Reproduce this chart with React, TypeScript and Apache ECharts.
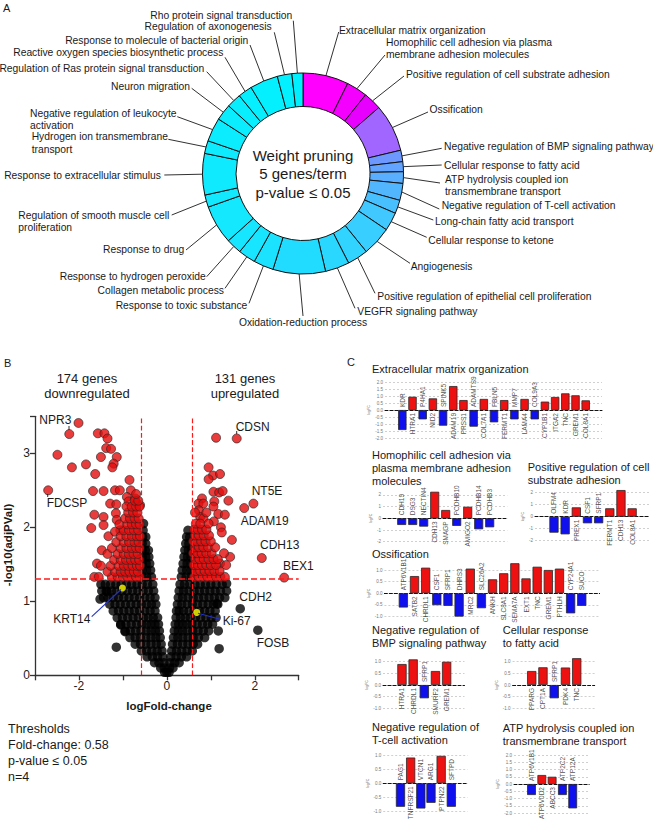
import { useEffect, useRef } from "react";
import * as echarts from "echarts";

const FONT = "'Liberation Sans', Arial, Helvetica, sans-serif";

// ---------------- Panel A: GO terms (weight pruning) ----------------
const goTerms = [
  "Extracellular matrix organization",
  "Homophilic cell adhesion via plasma\nmembrane adhesion molecules",
  "Positive regulation of cell substrate adhesion",
  "Ossification",
  "Negative regulation of BMP signaling pathway",
  "Cellular response to fatty acid",
  "ATP hydrolysis coupled ion\ntransmembrane transport",
  "Negative regulation of T-cell activation",
  "Long-chain fatty acid transport",
  "Cellular response to ketone",
  "Angiogenesis",
  "Positive regulation of epithelial cell proliferation",
  "VEGFR signaling pathway",
  "Oxidation-reduction process",
  "Response to toxic substance",
  "Collagen metabolic process",
  "Response to hydrogen peroxide",
  "Response to drug",
  "Regulation of smooth muscle cell\nproliferation",
  "Response to extracellular stimulus",
  "Hydrogen ion transmembrane\ntransport",
  "Negative regulation of leukocyte\nactivation",
  "Neuron migration",
  "Regulation of Ras protein signal transduction",
  "Reactive oxygen species biosynthetic process",
  "Response to molecule of bacterial origin",
  "Regulation of axonogenesis",
  "Rho protein signal transduction",
];
const goShares = [26.4, 12.1, 10.5, 27.6, 6.6, 5.8, 6.7, 9.8, 7.8, 10.7, 17, 12, 14, 30.4, 11.6, 10, 9, 22.5, 7.1, 24, 7.4, 13.8, 9.5, 8.4, 8.2, 16.3, 8.4, 6.4];
const goColors = [
  "#ff00ff", "#f400ff", "#e800ff", "#a066ff", "#6c98ff", "#62a4ff", "#5aaeff",
  "#52b6ff", "#48c0ff", "#40c8ff", "#38ceff", "#30d4ff", "#2ad8ff", "#22dcff",
  "#1be3ff", "#18e5ff", "#16e6ff", "#14e8ff", "#12e9ff", "#10eaff", "#0eebff",
  "#0cecff", "#0aedff", "#08eeff", "#06efff", "#04f0ff", "#02f0ff", "#00f0ff",
];
// label placement: [textX, firstLineCenterY, align, leaderStartX, leaderStartY]
const goLabelLayout: [number, number, string, number, number][] = [
  [339, 30.7, "left", 338.7, 32],
  [386, 42.3, "left", 385, 55],
  [406, 74, "left", 404, 76],
  [429.5, 109, "left", 428, 112],
  [444, 146, "left", 441.7, 148.3],
  [444, 165, "left", 441.7, 165],
  [445, 179.3, "left", 440, 183],
  [441.7, 205, "left", 439.3, 209],
  [435, 221, "left", 433.3, 220],
  [428.3, 240, "left", 426.7, 237.3],
  [410.7, 266.7, "left", 410, 263.3],
  [377.3, 296.7, "left", 375, 293.3],
  [357.3, 311.7, "left", 355, 308.3],
  [303, 322, "center", 303, 316],
  [247.3, 305, "right", 249, 303.3],
  [224, 290.7, "right", 225, 288.3],
  [205.7, 276, "right", 206.7, 276.7],
  [184.3, 249.3, "right", 186, 250],
  [18.3, 215, "left", 171.7, 215],
  [161, 175, "right", 164.3, 175],
  [31.7, 136.7, "left", 168.3, 139.3],
  [30, 113.3, "left", 177.3, 116.7],
  [190, 86, "right", 191.7, 88.3],
  [204.3, 68.3, "right", 206.7, 71.7],
  [223.3, 52.3, "right", 225, 57.3],
  [248.3, 40, "right", 250, 45],
  [271.7, 26.7, "right", 274.3, 32.3],
  [292.3, 15, "right", 293.3, 20.7],
];
const DONUT_C = [303, 173.5];
const DONUT_R = [67, 100.5];

// ---------------- Panel B: volcano ----------------
const fcThreshold = 0.58;
const adjPThreshold = 0.05;
const notSignificant: number[][] = [
  [-0.05, 0.04], [0, 0.04], [0.05, 0.04],
  [-0.14, 0.1], [-0.06, 0.1], [0.06, 0.1], [0.14, 0.1],
  [-0.28, 0.17], [-0.18, 0.17], [-0.07, 0.17], [0.07, 0.17], [0.18, 0.17], [0.28, 0.17],
  [-0.45, 0.25], [-0.33, 0.25], [-0.21, 0.25], [-0.09, 0.25], [0.09, 0.25], [0.21, 0.25], [0.33, 0.25], [0.45, 0.25],
  [-0.58, 0.33], [-0.46, 0.33], [-0.34, 0.33], [-0.22, 0.33], [-0.11, 0.33], [0.11, 0.33], [0.22, 0.33], [0.34, 0.33], [0.46, 0.33], [0.58, 0.33],
  [-0.72, 0.42], [-0.6, 0.42], [-0.48, 0.42], [-0.36, 0.42], [-0.24, 0.42], [-0.13, 0.42], [0.13, 0.42], [0.24, 0.42], [0.36, 0.42], [0.48, 0.42], [0.6, 0.42], [0.7, 0.42],
  [-0.84, 0.51], [-0.72, 0.51], [-0.6, 0.51], [-0.48, 0.51], [-0.36, 0.51], [-0.25, 0.51], [-0.15, 0.51], [0.15, 0.51], [0.25, 0.51], [0.36, 0.51], [0.48, 0.51], [0.6, 0.51], [0.72, 0.51], [0.86, 0.51],
  [-0.95, 0.6], [-0.83, 0.6], [-0.71, 0.6], [-0.59, 0.6], [-0.47, 0.6], [-0.36, 0.6], [-0.26, 0.6], [-0.17, 0.6], [0.17, 0.6], [0.26, 0.6], [0.36, 0.6], [0.47, 0.6], [0.59, 0.6], [0.71, 0.6], [0.83, 0.6], [0.95, 0.6],
  [-1.05, 0.69], [-0.93, 0.69], [-0.81, 0.69], [-0.69, 0.69], [-0.57, 0.69], [-0.46, 0.69], [-0.36, 0.69], [-0.27, 0.69], [-0.19, 0.69], [0.19, 0.69], [0.27, 0.69], [0.36, 0.69], [0.46, 0.69], [0.57, 0.69], [0.69, 0.69], [0.81, 0.69], [0.93, 0.69], [1.04, 0.69],
  [-1.13, 0.78], [-1.01, 0.78], [-0.89, 0.78], [-0.77, 0.78], [-0.65, 0.78], [-0.53, 0.78], [-0.42, 0.78], [-0.31, 0.78], [-0.21, 0.78], [0.21, 0.78], [0.31, 0.78], [0.42, 0.78], [0.53, 0.78], [0.65, 0.78], [0.77, 0.78], [0.89, 0.78], [1.01, 0.78], [1.12, 0.78],
  [-1.22, 0.87], [-1.1, 0.87], [-0.98, 0.87], [-0.86, 0.87], [-0.74, 0.87], [-0.62, 0.87], [-0.5, 0.87], [-0.38, 0.87], [-0.27, 0.87], [0.22, 0.87], [0.28, 0.87], [0.38, 0.87], [0.5, 0.87], [0.62, 0.87], [0.74, 0.87], [0.86, 0.87], [0.98, 0.87], [1.1, 0.87],
  [-1.3, 0.96], [-1.18, 0.96], [-1.06, 0.96], [-0.94, 0.96], [-0.82, 0.96], [-0.7, 0.96], [-0.58, 0.96], [-0.46, 0.96], [-0.35, 0.96], [-0.25, 0.96], [0.24, 0.96], [0.34, 0.96], [0.46, 0.96], [0.58, 0.96], [0.7, 0.96], [0.82, 0.96], [0.94, 0.96], [1.06, 0.96], [1.16, 0.96],
  [-1.44, 1.05], [-1.34, 1.05], [-1.22, 1.05], [-1.1, 1.05], [-0.98, 1.05], [-0.86, 1.05], [-0.74, 1.05], [-0.62, 1.05], [-0.5, 1.05], [-0.38, 1.05], [-0.27, 1.05], [0.26, 1.05], [0.36, 1.05], [0.48, 1.05], [0.6, 1.05], [0.72, 1.05], [0.84, 1.05], [0.96, 1.05], [1.08, 1.05], [1.2, 1.05], [1.32, 1.05],
  [-1.48, 1.14], [-1.38, 1.14], [-1.26, 1.14], [-1.14, 1.14], [-1.02, 1.14], [-0.9, 1.14], [-0.78, 1.14], [-0.66, 1.14], [-0.54, 1.14], [-0.42, 1.14], [-0.3, 1.14], [0.28, 1.14], [0.38, 1.14], [0.5, 1.14], [0.62, 1.14], [0.74, 1.14], [0.86, 1.14], [0.98, 1.14], [1.1, 1.14], [1.22, 1.14], [1.36, 1.14],
  [-1.5, 1.23], [-1.4, 1.23], [-1.28, 1.23], [-1.16, 1.23], [-1.04, 1.23], [-0.92, 1.23], [-0.8, 1.23], [-0.68, 1.23], [-0.56, 1.23], [-0.44, 1.23], [-0.32, 1.23], [0.3, 1.23], [0.4, 1.23], [0.52, 1.23], [0.64, 1.23], [0.76, 1.23], [0.88, 1.23], [1.0, 1.23], [1.12, 1.23], [1.26, 1.23],
  [-0.56, 1.33], [-0.46, 1.33], [-0.35, 1.33], [0.33, 1.33], [0.44, 1.33], [0.55, 1.33],
  [-0.56, 1.42], [-0.46, 1.42], [-0.37, 1.42], [0.35, 1.42], [0.45, 1.42], [0.55, 1.42],
  [-0.56, 1.51], [-0.47, 1.51], [-0.39, 1.51], [0.37, 1.51], [0.46, 1.51], [0.55, 1.51],
  [-0.56, 1.6], [-0.48, 1.6], [-0.41, 1.6], [0.39, 1.6], [0.47, 1.6], [0.55, 1.6],
  [-0.56, 1.69], [-0.49, 1.69], [-0.42, 1.69], [0.41, 1.69], [0.49, 1.69], [0.56, 1.69],
  [-0.56, 1.78], [-0.48, 1.78], [0.43, 1.78], [0.5, 1.78],
  [-0.55, 1.87], [-0.48, 1.87], [0.45, 1.87], [0.52, 1.87],
  [-0.54, 1.96], [0.48, 1.96], [-0.53, 2.05],
  [-1.52, 1.03], [-1.36, 1.13], [-1.15, 0.38], [-1.05, 0.68], [-0.95, 0.59],
  [1.17, 0.6], [1.19, 0.36], [1.36, 1.24], [1.14, 0.97], [1.67, 0.9], [2.07, 0.61],
];
const downregulated: number[][] = [
  [-2.01, 3.41], [-2.22, 3.26], [-2.49, 2.98], [-2.16, 2.81], [-2.7, 2.5], [-1.84, 2.85],
  [-1.57, 3.27], [-1.42, 3.27], [-1.35, 3.2], [-1.38, 3.07], [-1.27, 3.06], [-1.5, 2.95],
  [-1.14, 2.95], [-1.63, 2.72], [-1.21, 2.86], [-1.24, 2.81], [-1.68, 2.49], [-1.44, 2.49],
  [-1.18, 2.5], [-1.07, 2.5], [-1.29, 2.32], [-1.15, 2.31], [-1.65, 2.17], [-1.44, 2.14],
  [-1.16, 2.19], [-1.14, 2.1], [-0.85, 2.64], [-0.82, 2.5], [-0.91, 2.41], [-0.87, 2.35],
  [-0.72, 2.39], [-0.68, 2.32], [-0.61, 2.3], [-1.06, 1.96], [-1.33, 1.88], [-1.18, 1.94],
  [-1.48, 1.69], [-1.59, 1.51], [-1.44, 2.03], [-1.72, 1.99],
  [-1.65, 1.33], [-1.55, 1.33], [-1.25, 1.33], [-1.12, 1.33], [-1.0, 1.33], [-0.9, 1.33], [-0.8, 1.33], [-0.7, 1.33], [-0.62, 1.33],
  [-1.35, 1.4], [-1.18, 1.4], [-1.05, 1.4], [-0.95, 1.4], [-0.85, 1.4], [-0.75, 1.4], [-0.66, 1.4],
  [-1.5, 1.48], [-1.28, 1.48], [-1.1, 1.48], [-0.98, 1.48], [-0.88, 1.48], [-0.78, 1.48], [-0.68, 1.48], [-0.61, 1.48],
  [-1.2, 1.56], [-1.05, 1.56], [-0.93, 1.56], [-0.82, 1.56], [-0.72, 1.56], [-0.63, 1.56],
  [-1.35, 1.64], [-1.12, 1.64], [-0.98, 1.64], [-0.87, 1.64], [-0.76, 1.64], [-0.66, 1.64],
  [-1.25, 1.72], [-1.05, 1.72], [-0.92, 1.72], [-0.8, 1.72], [-0.7, 1.72], [-0.62, 1.72],
  [-1.15, 1.8], [-0.98, 1.8], [-0.86, 1.8], [-0.74, 1.8], [-0.64, 1.8],
  [-1.05, 1.88], [-0.92, 1.88], [-0.8, 1.88], [-0.69, 1.88], [-0.61, 1.88],
  [-0.98, 1.96], [-0.86, 1.96], [-0.75, 1.96], [-0.65, 1.96],
  [-1.08, 2.04], [-0.9, 2.04], [-0.8, 2.04], [-0.7, 2.04], [-0.62, 2.04],
  [-0.95, 2.12], [-0.84, 2.12], [-0.73, 2.12], [-0.64, 2.12],
  [-0.88, 2.2], [-0.77, 2.2], [-0.67, 2.2],
  [-0.92, 2.28], [-0.8, 2.28], [-0.7, 2.28], [-0.62, 2.28],
  [-0.73, 2.36], [-0.65, 2.36], [-0.7, 2.45],
];
const upregulated: number[][] = [
  [1.12, 3.21], [1.59, 3.2], [0.95, 2.81], [1.05, 2.7], [1.21, 2.72], [0.95, 2.65],
  [1.06, 2.48], [1.19, 2.47], [1.27, 2.49], [1.08, 2.35], [1.4, 2.36], [1.06, 2.28],
  [0.8, 2.39], [0.72, 2.32], [0.83, 2.32], [0.73, 2.23], [0.76, 2.14], [1.17, 2.18],
  [1.32, 2.17], [1.07, 2.08], [0.83, 2.12], [1.48, 1.83], [1.23, 2.0], [1.25, 1.93],
  [1.44, 1.6], [1.21, 1.51], [1.97, 2.32], [1.76, 2.26], [2.16, 1.585], [2.67, 1.32],
  [0.62, 1.33], [0.72, 1.33], [0.82, 1.33], [0.92, 1.33], [1.02, 1.33], [1.12, 1.33], [1.22, 1.33], [1.32, 1.33],
  [0.66, 1.41], [0.76, 1.41], [0.86, 1.41], [0.97, 1.41], [1.08, 1.41], [1.2, 1.41],
  [0.61, 1.49], [0.7, 1.49], [0.8, 1.49], [0.9, 1.49], [1.0, 1.49], [1.12, 1.49], [1.35, 1.49],
  [0.64, 1.57], [0.74, 1.57], [0.84, 1.57], [0.95, 1.57], [1.06, 1.57], [1.16, 1.57],
  [0.6, 1.65], [0.69, 1.65], [0.79, 1.65], [0.9, 1.65], [1.02, 1.65], [1.3, 1.65],
  [0.63, 1.73], [0.73, 1.73], [0.83, 1.73], [0.94, 1.73], [1.1, 1.73],
  [0.6, 1.81], [0.68, 1.81], [0.78, 1.81], [0.88, 1.81], [1.0, 1.81],
  [0.64, 1.89], [0.73, 1.89], [0.84, 1.89], [0.96, 1.89],
  [0.62, 1.97], [0.7, 1.97], [0.8, 1.97], [0.9, 1.97],
  [0.66, 2.05], [0.76, 2.05], [0.95, 2.05], [0.64, 2.2], [0.9, 2.2],
];
const highlighted: number[][] = [[-1.01, 1.18], [0.68, 0.85]];

// ---------------- Panel C: bar charts ----------------
const ecmGenes = ["KDR", "HTRA1", "P4HA1", "NID2", "SPINK5", "ADAM19", "PRSS1", "ADAMTS9", "COL7A1", "FBLN5", "FERMT1", "MMP7", "LAMA4", "COL9A3", "CYP1B1", "ITGA2", "TNC", "GREM1", "COL8A1"];
const ecmFC = [-1.43, 0.95, -0.67, 0.83, -1.12, 1.71, 0.71, -1.19, 0.79, -0.88, 0.71, -0.67, 0.79, -0.67, 0.6, 0.93, 1.19, 1.05, 0.69];
const homoGenes = ["CDH19", "DSG3", "NECTIN4", "CDH13", "SMAGP", "PCDHB10", "AMIGO2", "PCDHB14", "PCDHB3"];
const homoFC = [-0.57, -0.57, -0.71, 2.27, 0.71, -0.65, 0.99, -0.94, -0.77];
const substrateGenes = ["OLFM4", "KDR", "PREX1", "CSF1", "SFRP1", "FERMT1", "CDH13", "COL8A1"];
const substrateFC = [-1.33, -1.47, 0.78, -0.55, -0.55, 0.7, 2.22, 0.7];
const ossGenes = ["ATP6V1B1", "SATB2", "CHRDL1", "CSF1", "SFRP1", "DHRS3", "MRC2", "SLC26A2", "ANKH", "SLC8A1", "SEMA7A", "EXT1", "TNC", "GREM1", "PTHLH", "CYP24A1", "SUCO"];
const ossFC = [-0.61, 0.74, 1.1, -0.51, -0.54, -1.0, 1.06, -0.64, 0.6, 0.86, 1.29, 0.64, 1.14, 1.0, 1.06, -0.86, -0.54];
const bmpGenes = ["HTRA1", "CHRDL1", "SFRP1", "SMURF2", "GREM1"];
const bmpFC = [0.9, 1.1, -0.57, 0.6, 1.0];
const fattyGenes = ["PPARG", "CPT1A", "SFRP1", "PDK4", "TNC"];
const fattyFC = [0.6, 0.76, -0.57, 0.75, 1.15];
const tcellGenes = ["PAG1", "TNFRSF21", "VTCN1", "ARG1", "PTPN22", "SFTPD"];
const tcellFC = [-0.83, 0.91, -0.89, -0.69, 0.97, -0.83];
const atpGenes = ["ATP6V1B1", "ATP6V0D2", "ABCC3", "ATP2C2", "ATP12A"];
const atpFC = [-0.76, 0.62, 0.5, -0.76, -1.68];

type Panel = {
  title: string; genes: string[]; fc: number[];
  tx: number; ty: number; left: number; top: number; width: number; height: number;
  ymin: number; ymax: number; interval: number; barW: number; dec: number;
};
const panels: Panel[] = [
  { title: "Extracellular matrix organization", genes: ecmGenes, fc: ecmFC, tx: 372, ty: 369.3, left: 385, top: 382, width: 217, height: 56, ymin: -2, ymax: 2, interval: 0.5, barW: 8.4, dec: 1 },
  { title: "Homophilic cell adhesion via\nplasma membrane adhesion\nmolecules", genes: homoGenes, fc: homoFC, tx: 372, ty: 455, left: 383, top: 494.9, width: 124.3, height: 46.8, ymin: -2, ymax: 2, interval: 1, barW: 9, dec: 0 },
  { title: "Positive regulation of cell\nsubstrate adhesion", genes: substrateGenes, fc: substrateFC, tx: 527.7, ty: 467.3, left: 535, top: 492.7, width: 115, height: 48, ymin: -2, ymax: 2, interval: 1, barW: 9.2, dec: 0 },
  { title: "Ossification", genes: ossGenes, fc: ossFC, tx: 372, ty: 554.3, left: 384.4, top: 570, width: 215.2, height: 46.6, ymin: -1, ymax: 1, interval: 0.5, barW: 9.2, dec: 1 },
  { title: "Negative regulation of\nBMP signaling pathway", genes: bmpGenes, fc: bmpFC, tx: 372, ty: 630, left: 383, top: 661.7, width: 81.5, height: 46.6, ymin: -1, ymax: 1, interval: 0.5, barW: 9.3, dec: 1 },
  { title: "Cellular response\nto fatty acid", genes: fattyGenes, fc: fattyFC, tx: 502.7, ty: 630, left: 512.6, top: 661.7, width: 82.1, height: 46.6, ymin: -1, ymax: 1, interval: 0.5, barW: 9.3, dec: 1 },
  { title: "Negative regulation of\nT-cell activation", genes: tcellGenes, fc: tcellFC, tx: 372, ty: 727.3, left: 383.2, top: 755, width: 84.4, height: 56.6, ymin: -1, ymax: 1, interval: 0.5, barW: 9.2, dec: 1 },
  { title: "ATP hydrolysis coupled ion\ntransmembrane transport", genes: atpGenes, fc: atpFC, tx: 502.7, ty: 728.3, left: 514, top: 755, width: 75.2, height: 58, ymin: -2, ymax: 2, interval: 0.5, barW: 8.8, dec: 1 },
];

const RED = "#ee1111";
const BLUE = "#1010ee";
const THRESH_RED = "#ff1a1a";

function text(x: number, y: number, t: string, o: any = {}) {
  const align = o.align || "left";
  const va = o.va || "middle";
  return {
    type: "text",
    z: 100,
    x: o.rx !== undefined ? o.rx : 0,
    y: o.ry !== undefined ? o.ry : 0,
    rotation: o.rotation || 0,
    silent: true,
    style: {
      x, y, text: t,
      fill: o.fill || "#1a1a1a",
      fontSize: o.size || 10.3,
      fontFamily: FONT,
      fontWeight: o.weight || "normal",
      align, textAlign: align,
      verticalAlign: va, textVerticalAlign: va,
      lineHeight: o.lh || undefined,
    },
  };
}
function line(x1: number, y1: number, x2: number, y2: number, stroke = "#1a1a1a", w = 0.9) {
  return { type: "line", z: 99, silent: true, shape: { x1, y1, x2, y2 }, style: { stroke, lineWidth: w } };
}

function buildOption() {
  const graphics: any[] = [];

  graphics.push(text(3, 8, "A", { size: 11 }));
  graphics.push(text(4, 363, "B", { size: 11 }));
  graphics.push(text(347, 362, "C", { size: 11 }));

  const total = goShares.reduce((a, b) => a + b, 0);
  let cum = 0;
  goTerms.forEach((name, i) => {
    const mid = ((cum + goShares[i] / 2) / total) * 2 * Math.PI;
    cum += goShares[i];
    const rx = DONUT_C[0] + DONUT_R[1] * Math.sin(mid);
    const ry = DONUT_C[1] - DONUT_R[1] * Math.cos(mid);
    const [tx, ty, al, lx, ly] = goLabelLayout[i];
    graphics.push(text(tx, ty - 6.3, name, { align: al, va: "top", lh: 12.6 }));
    graphics.push(line(lx, ly, rx, ry));
  });
  graphics.push(text(DONUT_C[0], DONUT_C[1], "Weight pruning\n5 genes/term\np-value ≤ 0.05", { align: "center", size: 15, lh: 18.5 }));

  graphics.push(text(87, 385.5, "174 genes\ndownregulated", { align: "center", size: 13, lh: 15 }));
  graphics.push(text(245, 385.8, "131 genes\nupregulated", { align: "center", size: 13, lh: 15 }));
  graphics.push(text(169, 706, "logFold-change", { align: "center", size: 11.5, weight: "bold" }));
  graphics.push(text(0, 0, "-log10(adjPVal)", { align: "center", size: 11.5, weight: "bold", rotation: Math.PI / 2, rx: 8, ry: 545 }));
  graphics.push(text(8, 753, "Thresholds\nFold-change: 0.58\np-value ≤ 0.05\nn=4", { size: 12.5, lh: 16 }));
  const ann = (x: number, y: number, t: string) => graphics.push(text(x, y, t, { size: 12 }));
  ann(39.3, 420, "NPR3"); graphics.push(line(69, 430, 69, 426));
  ann(46.7, 503.3, "FDCSP"); graphics.push(line(47.7, 494, 47.7, 497));
  ann(235.7, 426.7, "CDSN"); graphics.push(line(236.7, 434, 236.7, 431));
  ann(251.7, 491, "NT5E");
  ann(240.7, 521, "ADAM19");
  ann(260, 545, "CDH13");
  ann(283, 566, "BEX1");
  ann(239.3, 597.3, "CDH2");
  ann(256.7, 643.3, "FOSB");
  ann(53.3, 619.3, "KRT14"); graphics.push(line(91.7, 616.7, 121, 589.5, "#2233cc", 1.1));
  ann(222.7, 620.7, "Ki-67"); graphics.push(line(220, 619.3, 198, 613.2, "#2233cc", 1.1));

  panels.forEach((p) => graphics.push(text(p.tx, p.ty - 6.4, p.title, { size: 11, va: "top", lh: 12.8 })));

  const grid: any[] = [{ left: 35, top: 416.3, width: 263.7, height: 259 }];
  const xAxis: any[] = [{
    gridIndex: 0, type: "value", min: -3, max: 3, interval: 1,
    axisLine: { onZero: false, lineStyle: { color: "#333", width: 1.3 } },
    axisTick: { length: 5, lineStyle: { color: "#333", width: 1.3 } },
    axisLabel: { formatter: (v: number) => (v % 2 === 0 ? String(v) : ""), fontSize: 12, color: "#222", margin: 5, fontFamily: FONT },
    splitLine: { show: false },
  }];
  const yAxis: any[] = [{
    gridIndex: 0, type: "value", min: 0, max: 3.5, interval: 1,
    axisLine: { show: true, onZero: false, lineStyle: { color: "#333", width: 1.3 } },
    axisTick: { show: true, length: 5, lineStyle: { color: "#333", width: 1.3 } },
    axisLabel: { formatter: (v: number) => (Number.isInteger(v) ? String(v) : ""), fontSize: 12, color: "#222", margin: 5, fontFamily: FONT },
    splitLine: { show: false },
  }];
  const dashedV = { color: THRESH_RED, type: "dashed", width: 1.2, opacity: 1 };
  const dashedH = { color: THRESH_RED, type: "dashed", width: 1.5, opacity: 1 };
  const series: any[] = [
    {
      type: "pie", center: DONUT_C, radius: DONUT_R, startAngle: 90, clockwise: true,
      silent: true, label: { show: false }, labelLine: { show: false }, avoidLabelOverlap: false,
      itemStyle: { borderColor: "#111", borderWidth: 1 },
      data: goTerms.map((n, i) => ({ name: n, value: goShares[i], itemStyle: { color: goColors[i] } })),
    },
    {
      type: "scatter", xAxisIndex: 0, yAxisIndex: 0, data: notSignificant, symbolSize: 9.5,
      itemStyle: { color: "#000" }, silent: true,
    },
    {
      type: "scatter", xAxisIndex: 0, yAxisIndex: 0, data: downregulated.concat(upregulated), symbolSize: 9,
      itemStyle: { color: "#e30d0d", borderColor: "#222", borderWidth: 0.8 }, silent: true,
    },
    {
      type: "scatter", xAxisIndex: 0, yAxisIndex: 0, data: highlighted, symbolSize: 7,
      itemStyle: { color: "#ffff00" }, silent: true, z: 5,
      markLine: {
        silent: true, symbol: ["none", "none"], label: { show: false }, z: 6,
        lineStyle: dashedV,
        data: [
          { xAxis: -fcThreshold, lineStyle: dashedV },
          { xAxis: fcThreshold, lineStyle: dashedV },
          [
            { coord: [-3, -Math.log10(adjPThreshold)], lineStyle: dashedH },
            { coord: [3, -Math.log10(adjPThreshold)], lineStyle: dashedH },
          ],
        ],
      },
    },
  ];

  panels.forEach((p, k) => {
    const gi = k + 1;
    grid.push({ left: p.left, top: p.top, width: p.width, height: p.height });
    xAxis.push({
      gridIndex: gi, type: "value", min: -1.7, max: p.genes.length - 1 + 1.6,
      axisLine: { onZero: true, lineStyle: { color: "#111", type: [3, 2], width: 1 } },
      axisTick: { show: false }, axisLabel: { show: false }, splitLine: { show: false },
    });
    yAxis.push({
      gridIndex: gi, type: "value", min: p.ymin, max: p.ymax, interval: p.interval,
      name: "logFC", nameLocation: "middle", nameGap: 10,
      nameTextStyle: { fontSize: 3.5, color: "#666", fontFamily: FONT },
      axisLine: { show: false, onZero: false }, axisTick: { show: false },
      axisLabel: { fontSize: 4.5, color: "#777", margin: 2, formatter: (v: number) => v.toFixed(p.dec), fontFamily: FONT },
      splitLine: { show: true, lineStyle: { color: "#c4c4c4", type: [2, 2], width: 0.8 } },
    });
    series.push({
      type: "bar", xAxisIndex: gi, yAxisIndex: gi, barWidth: p.barW, clip: false, silent: true,
      data: p.fc.map((v, j) => ({ value: [j, v], itemStyle: { color: v >= 0 ? RED : BLUE } })),
      itemStyle: { borderColor: "#2a2a2a", borderWidth: 0.8 },
    });
    series.push({
      type: "scatter", xAxisIndex: gi, yAxisIndex: gi, symbolSize: 1, clip: false, silent: true,
      itemStyle: { color: "rgba(0,0,0,0)" },
      data: p.genes.map((g, j) => ({
        name: g, value: [j, 0],
        label: { align: p.fc[j] < 0 ? "left" : "right", offset: p.fc[j] < 0 ? [3, 0] : [-3, 0] },
      })),
      label: {
        show: true, position: "inside", rotate: 90, formatter: "{b}", fontSize: 6.5,
        color: "#222", verticalAlign: "middle", fontFamily: FONT,
      },
    });
  });

  return {
    animation: false,
    textStyle: { fontFamily: FONT },
    grid, xAxis, yAxis, series,
    graphic: graphics,
  };
}

export default function App() {
  const ref = useRef<HTMLDivElement>(null);
  useEffect(() => {
    document.body.style.margin = "0";
    const chart = echarts.init(ref.current!, undefined, { renderer: "svg" });
    chart.setOption(buildOption() as any);
    return () => chart.dispose();
  }, []);
  return <div ref={ref} style={{ position: "absolute", left: 0, top: 0, width: 653, height: 819, background: "#fff" }} />;
}
